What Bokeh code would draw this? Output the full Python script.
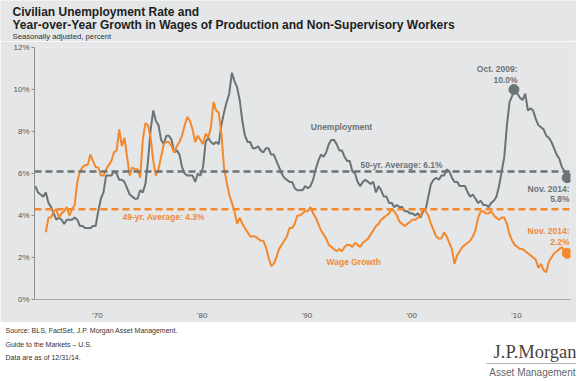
from bokeh.plotting import figure
from bokeh.models import Range1d, FixedTicker, Span, Label, PrintfTickFormatter
from bokeh.layouts import column, row
from bokeh.embed import file_html
from bokeh.resources import INLINE

# ---------------- data ----------------
unemp_years = list(range(1964, 2015))
# quarterly readings (Feb, May, Aug, Nov), percent
unemployment = [
    5.4, 5.1, 5.0, 4.9,  5.1, 4.6, 4.4, 4.1,  3.8, 3.9, 3.8, 3.6,  3.8, 3.8, 3.8, 3.9,
    3.8, 3.5, 3.5, 3.4,  3.4, 3.4, 3.5, 3.5,  4.2, 4.8, 5.1, 5.9,  5.9, 5.9, 6.1, 6.0,
    5.7, 5.7, 5.6, 5.3,  5.0, 4.9, 4.8, 4.8,  5.2, 5.1, 5.5, 6.6,  8.1, 9.0, 8.5, 8.3,
    7.6, 7.4, 7.8, 7.8,  7.6, 7.0, 7.1, 6.9,  6.3, 6.0, 5.9, 5.9,  5.9, 5.6, 6.0, 5.9,
    6.3, 7.5, 7.7, 7.5,  7.4, 7.5, 7.4, 8.3,  8.9, 9.4, 9.8, 10.8, 10.4, 10.1, 9.5, 8.5,
    7.8, 7.5, 7.5, 7.2,  7.2, 7.3, 7.1, 7.0,  7.2, 7.2, 6.9, 6.9,  6.6, 6.3, 6.0, 5.8,
    5.7, 5.6, 5.6, 5.3,  5.2, 5.2, 5.2, 5.4,  5.3, 5.4, 5.7, 6.2,  6.6, 6.9, 6.8, 7.0,
    7.4, 7.6, 7.6, 7.4,  7.1, 7.1, 6.8, 6.6,  6.6, 6.1, 6.0, 5.6,  5.4, 5.6, 5.7, 5.6,
    5.5, 5.6, 5.1, 5.4,  5.2, 4.9, 4.9, 4.6,  4.6, 4.4, 4.5, 4.4,  4.4, 4.2, 4.2, 4.1,
    4.1, 4.0, 4.1, 3.9,  4.2, 4.3, 4.9, 5.5,  5.7, 5.8, 5.7, 5.9,  5.9, 6.2, 6.1, 5.8,
    5.6, 5.6, 5.4, 5.4,  5.4, 5.1, 4.9, 5.0,  4.8, 4.6, 4.7, 4.5,  4.5, 4.4, 4.6, 4.7,
    4.9, 5.4, 6.1, 6.8,  8.3, 9.4, 9.7, 10.0, 9.8, 9.6, 9.5, 9.8,  9.0, 9.1, 9.0, 8.6,
    8.3, 8.2, 8.1, 7.8,  7.7, 7.5, 7.2, 6.9,  6.7, 6.3, 6.1, 5.8,
]
wage_years = list(range(1965, 2015))
wage_growth = [
    3.2, 3.9, 3.9, 4.2,  4.3, 3.9, 4.1, 4.2,  4.4, 4.0, 4.3, 4.5,  5.6, 6.1, 6.3, 6.4,
    6.4, 6.9, 6.6, 6.3,  6.3, 5.9, 5.9, 6.2,  6.4, 6.6, 7.0, 7.1,  8.1, 7.3, 7.7, 6.8,
    5.9, 6.3, 6.2, 6.2,  5.8, 7.6, 8.4, 8.3,  7.7, 6.6, 5.9, 6.2,  6.8, 7.4, 7.5, 7.5,
    7.3, 7.0, 7.3, 7.5,  7.8, 8.3, 8.7, 8.5,  8.1, 7.5, 7.8, 7.6,  7.4, 7.9, 7.7, 8.2,
    9.4, 9.0, 8.9, 7.9,  6.3, 5.6, 5.0, 4.6,  4.2, 3.6, 3.9, 3.6,  3.4, 3.2, 3.0, 3.0,
    3.0, 2.9, 2.8, 2.8,  2.5, 2.0, 1.6, 1.7,  2.0, 2.4, 2.6, 2.8,  3.0, 3.4, 3.4, 3.6,
    4.0, 4.0, 4.1, 4.2,  4.2, 4.4, 4.1, 3.9,  3.6, 3.3, 3.1, 2.9,  2.6, 2.5, 2.4, 2.3,
    2.4, 2.3, 2.5, 2.6,  2.6, 2.5, 2.7, 2.6,  2.5, 2.7, 2.8, 2.9,  3.1, 3.3, 3.5, 3.6,
    3.8, 3.9, 4.0, 4.1,  4.3, 4.2, 4.0, 3.7,  3.6, 3.5, 3.6, 3.7,  3.8, 3.8, 3.9, 4.0,
    4.3, 4.2, 4.0, 3.6,  3.3, 3.0, 2.9, 2.9,  3.2, 3.0, 2.7, 2.4,  1.7, 2.1, 2.3, 2.5,
    2.6, 2.7, 2.8, 3.0,  3.3, 3.9, 4.2, 4.2,  4.1, 4.1, 4.2, 4.0,  3.9, 3.8, 3.9, 3.9,
    3.6, 3.1, 2.8, 2.6,  2.5, 2.4, 2.4, 2.3,  2.2, 2.1, 2.0, 1.9,  1.5, 1.7, 1.4, 1.3,
    1.8, 2.0, 2.2, 2.3,  2.4, 2.5, 2.3, 2.2,
]
quarter_months = [2, 5, 8, 11]

unemp_avg = 6.1
wage_avg = 4.3
peak_month = (2009, 10)
peak_value = 10.0

y_ticks = [0, 2, 4, 6, 8, 10, 12]
x_ticks = [1970, 1980, 1990, 2000, 2010]
x_tick_labels = ["'70", "'80", "'90", "'00", "'10"]

# ---------------- derived ----------------
def dec(y, m):
    return y + (m - 1) / 12.0

unemp_dates = [dec(y, m) for y in unemp_years for m in quarter_months]
wage_dates = [dec(y, m) for y in wage_years for m in quarter_months]

BG = "#e4e6e7"
GRAY = "#6b7475"
ORANGE = "#f4882c"
ORANGE_TXT = "#f08a38"
FONT = "Liberation Sans"

W = 576
H_HEAD, H_TOP, H_FOOT = 41, 281, 57
FL, FR, FT, FB = 34, 570, 47, 306          # plot frame edges (page pixels)
X0, X1 = 1964.0, 2015.15
Y0, Y1 = 0, 12

# ---------------- header ----------------
hdr = figure(width=W, height=H_HEAD, x_range=Range1d(0, W), y_range=Range1d(H_HEAD, 0),
             output_backend="svg", toolbar_location=None, min_border=0,
             min_border_left=0, min_border_right=0, min_border_top=0, min_border_bottom=0,
             x_axis_location=None, y_axis_location=None,
             background_fill_color=BG, border_fill_color=BG, outline_line_color=None)
hdr.xgrid.visible = False
hdr.ygrid.visible = False

def hlab(x, y, text, color, size, bold=True):
    hdr.add_layout(Label(x=x, y=y, text=text, text_color=color, text_align="left",
                         text_baseline="middle", text_font=FONT, text_font_size=size,
                         text_font_style="bold" if bold else "normal"))

hlab(12, 11, "Civilian Unemployment Rate and", "#1e1e1e", "12px")
hlab(12, 24, "Year-over-Year Growth in Wages of Production and Non-Supervisory Workers",
     "#1e1e1e", "12px")
hlab(12, 35.5, "Seasonally adjusted, percent", "#333333", "7.7px", bold=False)

# ---------------- chart ----------------
p = figure(width=W, height=H_TOP, x_range=Range1d(X0, X1), y_range=Range1d(Y0, Y1),
           output_backend="svg", toolbar_location=None,
           min_border_left=FL, min_border_right=W - FR, min_border_top=FT - H_HEAD,
           min_border_bottom=H_HEAD + H_TOP - FB,
           background_fill_color=BG, border_fill_color=BG, outline_line_color=None)
p.xgrid.visible = False
p.ygrid.visible = False

p.yaxis.ticker = FixedTicker(ticks=y_ticks)
p.yaxis.formatter = PrintfTickFormatter(format="%d%%")
p.yaxis.minor_tick_line_color = None
p.yaxis.major_tick_out = 3
p.yaxis.major_tick_in = 0
p.yaxis.major_tick_line_color = "#8e8e8e"
p.yaxis.axis_line_color = "#8e8e8e"
p.yaxis.major_label_standoff = 2
p.yaxis.major_label_text_font = FONT
p.yaxis.major_label_text_font_size = "8px"
p.yaxis.major_label_text_color = "#555555"

p.xaxis.ticker = FixedTicker(ticks=x_ticks)
p.xaxis.major_label_overrides = {t: l for t, l in zip(x_ticks, x_tick_labels)}
p.xaxis.minor_tick_line_color = None
p.xaxis.major_tick_line_color = None
p.xaxis.axis_line_color = "#a6a6a6"
p.xaxis.major_label_standoff = 5
p.xaxis.major_label_text_font = FONT
p.xaxis.major_label_text_font_size = "8px"
p.xaxis.major_label_text_color = "#555555"

p.add_layout(Span(location=unemp_avg, dimension="width", line_color=GRAY,
                  line_width=2.5, line_dash="7 4"))
p.add_layout(Span(location=wage_avg, dimension="width", line_color=ORANGE,
                  line_width=2.5, line_dash="7 4"))

p.line(unemp_dates, unemployment, line_color=GRAY, line_width=2)
p.line(wage_dates, wage_growth, line_color=ORANGE, line_width=2)

p.scatter([dec(*peak_month)], [peak_value], size=10, color=GRAY)
p.scatter([unemp_dates[-1]], [unemployment[-1]], size=10, color=GRAY)
p.scatter([wage_dates[-1]], [wage_growth[-1]], size=10, color=ORANGE)

def dx(px):
    return X0 + (px - FL) * (X1 - X0) / (FR - FL)

def dy(py):
    return Y0 + (FB - py) * (Y1 - Y0) / (FB - FT)

def lab(px, py, text, color, align="left", size="8.5px"):
    p.add_layout(Label(x=dx(px), y=dy(py), text=text,
                       text_color=color, text_align=align, text_baseline="middle",
                       text_font=FONT, text_font_size=size, text_font_style="bold"))

lab(341, 129, "Unemployment", GRAY, align="center")
lab(360, 168, "50-yr. Average: 6.1%", GRAY)
lab(517, 69, "Oct. 2009:", GRAY, align="right")
lab(517, 80, "10.0%", GRAY, align="right")
lab(569, 192, "Nov. 2014:", GRAY, align="right")
lab(569, 203, "5.8%", GRAY, align="right")
lab(569, 236, "Nov. 2014:", ORANGE_TXT, align="right")
lab(569, 247, "2.2%", ORANGE_TXT, align="right")
lab(122, 221, "49-yr. Average: 4.3%", ORANGE_TXT)
lab(326, 267, "Wage Growth", ORANGE_TXT)

# ---------------- footer ----------------
top_f = H_HEAD + H_TOP
ftr = figure(width=W, height=H_FOOT, x_range=Range1d(0, W), y_range=Range1d(top_f + H_FOOT, top_f),
             output_backend="svg", toolbar_location=None, min_border=0,
             min_border_left=0, min_border_right=0, min_border_top=0, min_border_bottom=0,
             x_axis_location=None, y_axis_location=None,
             background_fill_color="white", border_fill_color="white", outline_line_color=None)
ftr.xgrid.visible = False
ftr.ygrid.visible = False

def flab(x, y, text, color, size, font=FONT, align="left"):
    ftr.add_layout(Label(x=x, y=y, text=text, text_color=color, text_align=align,
                         text_baseline="middle", text_font=font, text_font_size=size))

flab(5, 330, "Source: BLS, FactSet, J.P. Morgan Asset Management.", "#333333", "7px")
flab(5, 344, "Guide to the Markets \u2013 U.S.", "#333333", "7px")
flab(5, 357, "Data are as of 12/31/14.", "#333333", "7px")
flab(576, 351.5, "J.P.Morgan", "#4a4040", "18.5px", font="Liberation Serif", align="right")
ftr.line([486, 576], [363, 363], line_color="#b8b0b0", line_width=1)
flab(575, 372, "Asset Management", "#666666", "10px", align="right")

layout = column(row(hdr), p, row(ftr), spacing=0)
open("out.html", "w").write(file_html(layout, INLINE))
